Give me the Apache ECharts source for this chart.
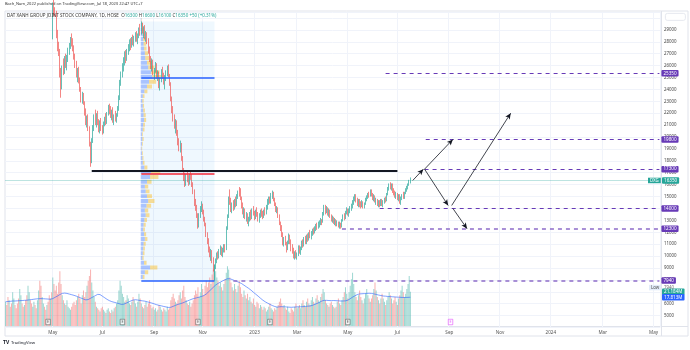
<!DOCTYPE html>
<html><head><meta charset="utf-8">
<script src="https://cdn.jsdelivr.net/npm/echarts/dist/echarts.min.js"></script>
<style>html,body{margin:0;padding:0;background:#fff}#c{width:690px;height:350px}</style>
</head><body><div id="c"></div>
<script>
// ---------- DATA ----------
const startDate = '2022-03-04';
const axisEndDate = '2024-05-08';
const holidays = ['2022-04-11','2022-05-02','2022-05-03','2022-09-01','2022-09-02','2023-01-02','2023-01-20','2023-01-23','2023-01-24','2023-01-25','2023-01-26','2023-05-01','2023-05-02','2023-05-03'];

// daily bars [open, high, low, close]
const ohlc = [
[37500,38300,37100,37900],[37900,38400,37200,37400],[37400,37800,36500,36700],[36700,37300,36200,37100],[37100,37600,36600,36900],[36900,37000,35800,36000],[36000,36600,35600,36400],[36400,37200,36200,37000],[37000,37500,36500,36800],[36800,37100,36000,36300],
[36300,36500,35200,35500],[35500,35900,34800,35000],[35000,35800,34900,35600],[35600,36200,35300,36000],[36000,36400,35400,35700],[35700,35900,34600,34900],[34900,35400,34500,35200],[35200,35500,34300,34500],[34500,34800,33600,33900],[33900,34600,33700,34400],
[34400,34900,34100,34700],[34700,35000,33900,34100],[34100,34300,33000,33300],[33300,33900,33100,33700],[33700,34200,33400,34000],[34000,34100,33200,33400],[33400,33600,32500,32800],[32800,33400,32600,33200],[33200,33700,32900,33500],[33500,33800,32800,33000],
[33000,33200,32200,32400],[32400,32900,32100,32700],[32700,33300,32500,33100],[33100,33400,32400,32600],[32600,32800,31800,32000],[32000,32500,31700,32300],[32300,32600,31600,31800],[31800,32200,31300,31500],[31500,31900,31100,31700],[31700,31800,30900,31100],
[28400,31300,28200,31000],[31000,31600,30200,30600],[30600,30900,30100,30400],[30400,30600,28300,28500],[28500,29000,27200,27500],[27500,28000,26800,27200],[27200,27400,25000,25200],[25200,25800,23300,24000],[24200,26000,24000,25800],[25800,26600,25200,25500],
[25500,26800,25300,26500],[26500,27000,25800,26000],[26000,26900,25600,26700],[26700,27500,26300,27300],[27300,27900,26900,27700],[27700,28400,27400,28100],[28100,28700,27600,27900],[27900,28300,27200,27400],[27400,27700,26500,26800],[26800,27000,25800,26000],
[26000,26400,25000,25300],[25300,25800,24600,25600],[25600,25900,24500,24700],[24700,25000,23800,24000],[24000,24200,22900,23100],[23100,23800,22800,23500],[23500,23700,22700,22900],[22900,23000,21800,22000],[22000,22400,21000,21200],[21200,21800,20800,21600],
[21600,21900,20500,20700],[20700,20900,19200,19400],[19400,19600,17500,17900],[18000,19900,17800,19700],[19700,21000,19500,20800],[20800,21900,20500,21600],[21600,22300,21000,21300],[21300,22000,20800,21800],[21800,22200,21000,21200],[21200,21500,20400,20700],
[20700,21400,20300,21200],[21200,21600,20500,20800],[20800,21000,20200,20500],[20500,21300,20300,21100],[21100,21700,20900,21500],[21500,22000,21000,21200],[21200,22100,21100,22000],[22000,22700,21800,22500],[22500,22800,21900,22100],[22100,22600,21600,21800],
[21800,22300,21400,22200],[22200,22500,21200,21400],[21400,21900,21000,21700],[21700,22200,21300,21500],[21500,22000,21200,21900],[21900,22600,21700,22400],[22400,23500,22200,23300],[23300,24800,23100,24600],[24600,25500,24300,25300],[25300,26200,25000,26000],
[26000,26700,25500,26500],[26500,27200,26000,26900],[26900,27300,26200,26500],[26500,27400,26400,27200],[27200,27800,26900,27600],[27600,28200,27200,27900],[27900,28300,27300,27600],[27600,28400,27500,28200],[28200,28600,27700,28000],[28000,28500,27600,28300],
[28300,28800,28000,28600],[28600,28900,28000,28200],[28200,28700,27800,28500],[28500,29200,28300,29000],[29000,29500,28500,28800],[28800,29700,28600,29400],[29400,29600,28700,28900],[28900,29300,28300,29100],[29100,29400,28200,28400],[28400,28900,28000,28700],
[28700,28800,27800,28000],[28000,28300,27000,27300],[27300,27600,26300,26500],[26500,26800,25700,26000],[26000,26600,25500,26300],[26300,26500,25200,25400],[25400,25800,24800,25600],[25600,26300,25400,26000],[26000,26200,24900,25100],[25100,25600,24700,25400],
[25400,25500,24100,24400],[24400,25000,23900,24800],[24800,25700,24600,25500],[25500,25900,24900,25100],[25100,25400,24400,24600],[24600,25200,24000,24900],[24900,25600,24700,25400],[25400,26000,25100,25800],[25800,26100,25000,25200],[25200,25300,24300,24500],
[24500,24600,23000,23200],[23200,23400,22000,22200],[22200,22600,21300,21500],[21500,21900,20700,21000],[21000,21500,20300,21200],[21200,21400,20100,20300],[20300,20600,19300,19500],[19500,19900,18800,19000],[19000,19700,18700,19400],[19400,19500,18000,18200],
[18200,18400,17100,17300],[17300,17400,16300,16500],[16500,17000,15800,16100],[16100,16900,15900,16700],[16700,17100,16200,16400],[16400,16800,15900,16100],[16100,16900,16000,16800],[16800,17200,16400,16600],[16600,16900,15800,16000],[16000,16200,15200,15400],
[15400,15600,14200,14400],[14400,14800,13800,14100],[14100,14300,13200,13400],[13400,13600,12300,12600],[12600,13600,12400,13400],[13400,14200,13200,14000],[14000,14600,13700,14300],[14300,14400,13500,13700],[13700,13900,12900,13100],[13100,13300,12500,12700],
[12700,12800,11600,11800],[11800,12000,11000,11200],[11200,11500,10300,10500],[10500,10800,9900,10100],[10100,10600,9600,10400],[10400,10500,9400,9600],[9600,9900,8700,8900],[8900,9300,7940,9100],[9100,9800,8900,9600],[9600,10300,9400,10100],
[10100,10400,9700,9900],[9900,10600,9800,10400],[10400,10900,10100,10700],[10700,10800,10000,10200],[10200,10700,9900,10500],[10500,11000,10300,10800],[10800,11000,10300,10600],[10600,12500,10500,12300],[12300,13500,12200,13300],[13300,15000,13200,14900],
[14900,15600,14300,14500],[14500,14900,13700,13900],[13900,14500,13600,14300],[14300,14700,13800,14000],[14000,14800,13900,14600],[14600,15000,14100,14300],[14300,15200,14200,15000],[15000,15500,14800,15300],[15300,15800,15000,15200],[15200,15700,14700,14900],
[14900,15000,14000,14200],[14200,14500,13500,13700],[13700,14100,13200,13900],[13900,14000,13100,13300],[13300,13700,12900,13500],[13500,13600,12700,12900],[12900,13300,12500,13100],[13100,13700,12900,13500],[13500,13900,13000,13200],[13200,14000,13100,13800],
[13800,14200,13400,13600],[13600,13800,13000,13200],[13200,13900,13100,13700],[13700,14100,13300,13500],[13500,13700,12900,13100],[13100,13600,12800,13400],[13400,13900,13200,13800],[13800,14000,13300,13500],[13500,13800,13100,13300],[13300,13900,13200,13700],
[13700,14100,13400,13600],[13600,14300,13500,14100],[14100,14800,13900,14600],[14600,15000,14300,14800],[14800,15000,14400,14500],[14500,15300,14400,15100],[15100,15500,14800,15300],[15300,15400,14600,14700],[14700,14900,14200,14400],[14400,14500,13700,13900],
[13900,14200,13600,14000],[14000,14100,13200,13300],[13300,13500,12600,12700],[12700,12900,12100,12300],[12300,12600,11600,11800],[11800,12000,10900,11100],[11100,11600,10800,11400],[11400,11700,10900,11000],[11000,11200,10300,10600],[10600,11300,10500,11100],
[11100,11900,11000,11700],[11700,11800,11000,11200],[11200,11400,10400,10600],[10600,11000,10200,10400],[10400,10700,9800,10000],[10000,10400,9700,10200],[10200,10500,9800,9900],[9900,10300,9700,10200],[10200,10900,10000,10700],[10700,10900,10200,10400],
[10400,10800,10100,10600],[10600,11300,10500,11100],[11100,11400,10700,10900],[10900,11600,10800,11400],[11400,11700,11000,11200],[11200,11800,11000,11600],[11600,11900,11200,11400],[11400,12000,11300,11800],[11800,12200,11500,11700],[11700,12100,11400,11900],
[11900,12300,11700,12100],[12100,12400,11800,12000],[12000,12500,11900,12300],[12300,12700,12100,12500],[12500,12800,12200,12400],[12400,12900,12300,12700],[12700,13000,12400,12800],[12800,13200,12600,13000],[13000,13100,12600,12900],[12900,13700,12800,13500],
[13500,14300,13400,14100],[14100,14300,13500,13700],[13700,14200,13600,14000],[14000,14100,13400,13600],[13600,14000,13300,13800],[13800,13900,13200,13300],[13300,13500,12900,13100],[13100,13400,12800,13200],[13200,13300,12700,12900],[12900,13200,12600,13000],
[13000,13100,12500,12700],[12700,13000,12500,12800],[12800,12900,12400,12600],[12600,12900,12300,12700],[12700,12800,12300,12500],[12500,13100,12400,13000],[13000,13500,12900,13400],[13400,13600,13000,13200],[13200,13800,13100,13700],[13700,14100,13500,13900],
[13900,14000,13400,13600],[13600,14000,13300,13800],[13800,14200,13600,14000],[14000,14400,13800,14200],[14200,14700,14000,14500],[14500,15000,14300,14800],[14800,15200,14600,15000],[15000,15200,14500,14600],[14600,14900,14200,14400],[14400,14800,14100,14700],
[14700,14800,14100,14300],[14300,14600,14000,14200],[14200,14700,14100,14500],[14500,14600,14000,14300],[14300,14500,14000,14400],[14400,14900,14300,14800],[14800,15100,14600,15000],[15000,15300,14800,15200],[15200,15400,14900,15100],[15100,15600,15000,15500],
[15500,15600,15000,15100],[15100,15300,14700,14900],[14900,15200,14600,15000],[15000,15100,14500,14600],[14600,14900,14300,14700],[14700,14800,14200,14400],[14400,14700,14100,14500],[14500,14700,14100,14300],[14300,14800,14200,14600],[14600,14800,14200,14400],
[14400,14700,14100,14600],[14600,14900,14400,14800],[14800,15000,14500,14700],[14700,15300,14600,15200],[15200,15800,15100,15700],[15700,16100,15500,15900],[15900,16200,15600,15800],[15800,16100,15500,16000],[16000,16100,15300,15400],[15400,15700,15100,15300],
[15300,15500,14900,15000],[15000,15400,14800,15200],[15200,15300,14700,14900],[14900,15200,14600,15100],[15100,15200,14400,14600],[14600,15000,14300,14900],[14900,15200,14700,15100],[15100,15400,14800,14900],[14900,15400,14800,15300],[15300,15700,15200,15600],
[15600,15900,15400,15800],[15800,16100,15600,16000],[16000,16400,15900,16300],[16300,16600,16100,16350]
];

// volume in millions of shares
const volumeM = [
15,13,18,16,12,14,21,17,13,11, 14,17,23,19,14,12,13,16,19,25, 21,16,14,12,15,13,11,16,22,28, 25,18,14,12,10,13,15,19,17,21,
30,26,22,25,20,27,34,26,19,16, 14,13,16,12,11,10,12,14,15,13, 16,18,20,17,14,19,22,18,21,25, 28,31,35,
27,22,18,15,12,11,10,9,11,12, 10,9,8,10,11,9,8,10,9,11, 12,14,16,22,28,25,20,18,15,16, 19,17,14,13,15,18,16,14,12,15, 20,17,14,12,11,13,15,12,
14,16,13,11,12,10,11,9,10,13, 12,10,9,11,10,9,12,10,11,16, 18,20,17,15,14,16,19,21,17,22, 25,18,16,14,13,15,12,14,16,19, 22,20,24,18,21,26,23,19,25,28, 24,27,30,26,32,35,38,
34,30,28,25,27,24,22,26,29,33, 37,35,30,27,24,22,26,23,21,25, 28,24,20,18,22,19,17,20,16,18, 15,14,17,13,12,15,14,11,13,12, 10,12,11,9,10,12,14,11,10,9, 11,10,12,13,15,17,14,12,13,11, 10,12,9,8,11,10,9,12,14,11, 12,13,11,14,16,13,12,15,17,14, 13,16,18,15,14,17,19,16,15,18, 20,23,21,
16,14,13,12,14,15,13,12,11,12, 15,17,14,13,16,18,21,24,20,17, 21,25,29,33,26,21,18,16,19,22, 18,16,14,17,20,23,19,17,15,17, 19,23,27,22,18,16,14,17,20,17, 15,13,16,18,21,19,17,14,16,18, 15,13,17,19,22,25,21,18,20,23, 26,31,21.184
];

// volume moving average (millions)
const volumeMA = [
15.0,15.1,15.2,15.3,15.3,15.4,15.5,15.5,15.5,15.5, 15.6,15.6,15.7,15.8,15.8,15.9,15.9,16.0,16.0,16.1,
16.2,16.3,16.4,16.5,16.6,16.7,16.8,16.9,16.9,17.0, 17.0,16.9,16.9,16.8,16.8,16.7,16.7,16.6,16.6,16.6,
17.0,17.4,17.8,18.2,18.6,19.0,19.5,19.9,20.2,20.5, 20.4,20.3,20.2,20.0,19.8,19.6,19.4,19.2,19.0,18.8,
18.5,18.2,17.9,17.6,17.3,17.0,16.7,16.4,16.2,16.0, 16.4,16.8,17.2,17.6,18.0,18.4,18.8,19.2,19.6,20.0,
19.5,19.0,18.5,18.0,17.5,17.0,16.5,16.1,15.7,15.3, 15.1,14.9,14.7,14.5,14.3,14.1,13.9,13.6,13.4,13.2,
13.5,13.8,14.1,14.5,14.8,15.2,15.5,15.8,16.1,16.4, 16.3,16.2,16.1,15.9,15.8,15.7,15.6,15.5,15.4,15.2,
15.0,14.8,14.6,14.4,14.2,14.0,13.7,13.5,13.2,13.0, 12.8,12.6,12.5,12.3,12.1,12.0,11.8,11.6,11.5,11.3,
11.6,11.9,12.2,12.5,12.8,13.1,13.4,13.6,13.8,14.0, 14.3,14.6,14.9,15.2,15.5,15.8,16.1,16.4,16.7,16.9,
17.1,17.3,17.5,17.7,17.9,18.1,18.3,18.6,18.9,19.1, 19.8,20.5,21.2,21.9,22.6,23.3,24.0,24.7,25.4,26.0,
26.4,26.8,27.2,27.6,28.0,28.4,28.7,29.0,29.3,29.5, 29.3,29.1,28.8,28.5,28.2,27.9,27.6,27.3,27.0,26.8,
26.3,25.8,25.3,24.8,24.3,23.8,23.3,22.8,22.2,21.5, 20.9,20.3,19.7,19.1,18.5,17.9,17.2,16.6,16.0,15.4,
15.0,14.6,14.2,13.8,13.4,13.0,12.7,12.4,12.1,11.8, 11.7,11.8,11.9,12.0,12.0,11.9,11.9,11.8,11.8,11.8,
11.7,11.6,11.6,11.7,11.7,11.8,11.8,11.9,11.9,11.9, 11.9,12.0,12.0,12.1,12.1,12.2,12.3,12.3,12.4,12.5,
12.8,13.1,13.4,13.7,14.0,14.3,14.7,15.1,15.5,15.8, 15.9,15.9,15.9,15.8,15.8,15.7,15.7,15.8,15.8,15.8,
15.7,15.7,15.6,15.6,15.5,15.5,15.5,15.6,15.6,15.6, 16.0,16.4,16.9,17.4,17.9,18.3,18.7,19.1,19.5,19.8,
19.9,20.0,20.0,20.1,20.1,20.2,20.2,20.3,20.3,20.3, 20.2,20.0,19.9,19.7,19.6,19.4,19.2,19.0,18.9,18.7,
18.6,18.5,18.5,18.4,18.3,18.3,18.2,18.1,18.1,18.0, 18.0,17.9,17.9,17.8,17.8,17.8,17.7,17.7,17.7,17.7,
17.7,17.8,17.8,17.813
];

// fixed-range volume profile rows: [price bin low, up volume, down volume]
const profileStep = 400;
const profileBins = [
[29600,3,2],[29200,5,4],[28800,8,6],[28400,10,8],[28000,12,10],[27600,14,12],[27200,16,12],[26800,20,16],[26400,22,18],[26000,30,24],
[25600,36,30],[25200,50,40],[24800,55,45],[24400,40,34],[24000,30,24],[23600,18,14],[23200,10,8],[22800,8,6],[22400,10,6],[22000,12,8],
[21600,14,10],[21200,16,10],[20800,12,8],[20400,10,8],[20000,6,4],[19600,8,6],[19200,6,4],[18800,4,3],[18400,6,4],[18000,8,5],
[17600,10,8],[17200,18,14],[16800,50,44],[16400,45,40],[16000,30,22],[15600,20,16],[15200,24,18],[14800,30,24],[14400,36,30],[14000,28,22],
[13600,20,16],[13200,24,18],[12800,18,12],[12400,14,10],[12000,12,8],[11600,16,10],[11200,20,12],[10800,14,10],[10400,12,8],[10000,10,8],
[9600,8,6],[9200,16,12],[8800,45,35],[8400,20,16],[8000,10,8]
];
const profileFrom = 115, profileTo = 177;
const profileUpperLine = 25000, profilePocLine = 16950;

// horizontal levels drawn by the author: [price, first bar index]
const dashedLevels = [[25350,322],[19800,356],[17300,355],[14000,317],[12300,285],[7940,193]];
const blackLevel = [17200, 73, 332];
// arrows: [fromIndex, fromPrice, toIndex, toPrice]
const arrows = [[345,16350,354,17300],[355,17300,379,19800],[355,17300,375,14250],[378,14250,428,22000],[379,14000,391,12300]];
const earningsIdx = [36,99,163,224,290];
const futureEarningsIdx = [377];
const priceTicks = {min:4000, max:30500, step:1000};

// ---------- BUILD ----------
function buildDates(){
  const out=[], hol=new Set(holidays);
  let d=new Date(startDate+'T00:00:00Z'); const end=new Date(axisEndDate+'T00:00:00Z');
  while(d<=end){ const wd=d.getUTCDay(), s=d.toISOString().slice(0,10);
    if(wd!==0&&wd!==6&&!hol.has(s)) out.push(s); d=new Date(d.getTime()+86400000); }
  return out;
}
const dates = buildDates();
const N = dates.length;
const UP='#26a69a', DOWN='#ef5350', PURPLE='#673ab7';
const CLEAR='rgba(0,0,0,0)';
const MONTHS=['Jan','Feb','Mar','Apr','May','Jun','Jul','Aug','Sep','Oct','Nov','Dec'];
const FONT='"Noto Sans", Roboto, sans-serif';
function isLabelIdx(i){ if(i<=0) return false; const m=+dates[i].slice(5,7), pm=+dates[i-1].slice(5,7); return m!==pm && (m%2===1); }
function labelFor(v){ const m=+v.slice(5,7); return m===1? v.slice(0,4) : MONTHS[m-1]; }

const last = ohlc[ohlc.length-1], prev = ohlc[ohlc.length-2];
const chg = last[3]-prev[3], chgPct = (chg/prev[3]*100).toFixed(2);
const minLow = Math.min(...ohlc.map(r=>r[2]));
let pfTop=-Infinity, pfBot=Infinity;
for(let i=profileFrom;i<=profileTo;i++){pfTop=Math.max(pfTop,ohlc[i][1]);pfBot=Math.min(pfBot,ohlc[i][2]);}
const pfMax = Math.max(...profileBins.map(b=>b[1]+b[2]));

const tagLabel=(text,bg,fg)=>({show:true,position:'end',distance:2,formatter:text,backgroundColor:bg,color:fg||'#fff',fontSize:4.6,fontFamily:FONT,padding:[1,2,0.5,2],borderRadius:1});

const mlData = [];
// price line of last close
mlData.push({yAxis:last[3], lineStyle:{color:'rgba(38,166,154,0.3)',width:1,type:'solid'}, label:tagLabel(String(last[3]),UP)});
mlData.push({yAxis:last[3], lineStyle:{color:CLEAR,width:0.1}, label:{show:true,position:'end',distance:0,formatter:'DXG',backgroundColor:UP,color:'#fff',fontSize:4.4,fontFamily:FONT,padding:[1,2,0.5,2],offset:[-12,0]}});
mlData.push({yAxis:minLow, lineStyle:{color:CLEAR,width:0.1}, label:{show:true,position:'end',distance:0,formatter:'Low',backgroundColor:'#e3ecf9',color:'#555',fontSize:4.4,fontFamily:FONT,padding:[1,2,0.5,2],offset:[-11,7]}});
mlData.push({yAxis:minLow, lineStyle:{color:CLEAR,width:0.1}, label:{show:true,position:'end',distance:4,formatter:String(minLow),color:'#777',fontSize:4.4,fontFamily:FONT,offset:[0,7]}});
dashedLevels.forEach(([v,from])=>{
  const light = (v===12300||v===7940);
  mlData.push([{coord:[dates[from],v], lineStyle:{color: light?'#9575cd':PURPLE, width: light?1.6:1, type:[4,4]}, label:tagLabel(String(v),PURPLE)},{coord:[dates[N-1],v]}]);
});
mlData.push([{coord:[dates[blackLevel[1]],blackLevel[0]], lineStyle:{color:'#131722',width:2,type:'solid'}, label:{show:false}},{coord:[dates[blackLevel[2]],blackLevel[0]]}]);
mlData.push([{coord:[dates[profileFrom],profileUpperLine], lineStyle:{color:'#2962ff',width:1.5,type:'solid'}, label:{show:false}},{coord:[dates[profileTo],profileUpperLine]}]);
mlData.push([{coord:[dates[profileFrom],profilePocLine], lineStyle:{color:'#f23645',width:2,type:'solid',opacity:0.8}, label:{show:false}},{coord:[dates[profileTo],profilePocLine]}]);
mlData.push([{coord:[dates[profileFrom],pfBot], lineStyle:{color:'#2962ff',width:1.5,type:'solid'}, label:{show:false}},{coord:[dates[profileTo],pfBot]}]);
arrows.forEach(a=>{
  mlData.push([{coord:[dates[a[0]],a[1]], symbol:'none', lineStyle:{color:'#131722',width:0.8,type:'solid'}, label:{show:false}},{coord:[dates[a[2]],a[3]], symbol:'arrow', symbolSize:[4,6]}]);
});

const option = {
  animation:false,
  backgroundColor:'#fff',
  grid:[
    {left:5,right:30,top:12,bottom:22.5},
    {left:5,right:30,top:226,bottom:24}
  ],
  xAxis:[
    {type:'category',gridIndex:0,data:dates,boundaryGap:true,axisLine:{show:false},axisTick:{show:false},
     axisLabel:{interval:(i)=>isLabelIdx(i),formatter:(v)=>labelFor(v),fontSize:4.6,color:'#555',margin:3,fontFamily:FONT},
     splitLine:{show:true,interval:(i)=>isLabelIdx(i),lineStyle:{color:'#f0f3fa',width:1}}},
    {type:'category',gridIndex:1,data:dates,boundaryGap:true,show:false}
  ],
  yAxis:[
    {type:'value',gridIndex:0,position:'right',min:priceTicks.min,max:priceTicks.max,interval:priceTicks.step,
     axisLine:{show:false},axisTick:{show:false},
     axisLabel:{fontSize:4.4,color:'#444',margin:4,fontFamily:FONT,formatter:(v)=>(v<=priceTicks.min||v>=30000)?'':String(v)},
     splitLine:{lineStyle:{color:'#f0f3fa',width:1}}},
    {type:'value',gridIndex:1,min:0,max:62,show:false,splitLine:{show:false}}
  ],
  graphic:[
    {type:'rect',z:-1,shape:{x:5,y:11,width:683,height:325},style:{fill:'none',stroke:'#e0e3eb',lineWidth:1}},
    {type:'line',z:-1,shape:{x1:661.5,y1:11,x2:661.5,y2:336},style:{stroke:'#e0e3eb',lineWidth:1}},
    {type:'line',z:-1,shape:{x1:5,y1:326.5,x2:688,y2:326.5},style:{stroke:'#e0e3eb',lineWidth:1}},
    {type:'text',left:5,top:2,style:{text:'Bach_Nam_2022 published on TradingView.com, Jul 18, 2023 22:47 UTC+7',fontSize:4,fontFamily:FONT,fill:'#333'}},
    {type:'text',left:7,top:13,z:20,style:{text:`DAT XANH GROUP JOINT STOCK COMPANY, 1D, HOSE  O{t|${last[0]}} H{t|${last[1]}} L{t|${last[2]}} C{t|${last[3]}} {t|${chg>=0?'+':''}${chg} (${chg>=0?'+':''}${chgPct}%)}`,
      fontSize:4.5,fontFamily:FONT,fill:'#333',rich:{t:{fill:UP,fontSize:4.5,fontFamily:FONT}}}},
    {type:'rect',left:665,top:13,shape:{width:20,height:7,r:2},style:{fill:'#fff',stroke:'#e0e3eb',lineWidth:0.8}},
    {type:'text',left:3,top:340,style:{text:'TV',fontSize:5,fontWeight:'bold',fontFamily:FONT,fill:'#131722'}},
    {type:'text',left:11,top:341,style:{text:'TradingView',fontSize:4.2,fontFamily:FONT,fill:'#131722'}}
  ],
  series:[
    {type:'custom',name:'profile',xAxisIndex:0,yAxisIndex:0,z:3,silent:true,clip:true,
     data:profileBins.map(b=>[profileFrom,b[0],b[1],b[2]]),
     encode:{x:0,y:1},
     renderItem:(params,api)=>{
       const pLow=api.value(1), up=api.value(2), dn=api.value(3);
       const a=api.coord([profileFrom,pLow]), b=api.coord([profileTo,pLow]), t=api.coord([profileFrom,pLow+profileStep]);
       const bw=api.size([1,0])[0];
       const x0=a[0]-bw/2, boxW=b[0]-a[0]+bw;
       const wu=up/pfMax*boxW*0.28, wd=dn/pfMax*boxW*0.28, h=Math.max(0.5,a[1]-t[1]-0.8);
       return {type:'group',children:[
         {type:'rect',shape:{x:x0,y:t[1],width:wu,height:h},style:{fill:'rgba(41,98,255,0.35)'}},
         {type:'rect',shape:{x:x0+wu,y:t[1],width:wd,height:h},style:{fill:'rgba(251,192,45,0.5)'}}
       ]};
     }},
    {type:'bar',name:'Volume',xAxisIndex:1,yAxisIndex:1,z:2,barWidth:1,silent:true,
     data:volumeM.map((v,i)=>({value:v,itemStyle:{color: ohlc[i][3]>=ohlc[i][0]?'rgba(38,166,154,0.45)':'rgba(239,83,80,0.45)'}})),
     markLine:{silent:true,symbol:['none','none'],animation:false,
       data:[{yAxis:volumeM[volumeM.length-1],lineStyle:{color:CLEAR,width:0.1},label:tagLabel(volumeM[volumeM.length-1].toFixed(3)+'M',UP)}]}},
    {type:'line',name:'Vol MA',xAxisIndex:1,yAxisIndex:1,z:3,data:volumeMA,symbol:'none',silent:true,
     lineStyle:{color:'rgba(41,98,255,0.75)',width:0.8},
     markLine:{silent:true,symbol:['none','none'],animation:false,
       data:[{yAxis:volumeMA[volumeMA.length-1],lineStyle:{color:CLEAR,width:0.1},label:tagLabel(volumeMA[volumeMA.length-1].toFixed(3)+'M','#2962ff')}]}},
    {type:'scatter',xAxisIndex:1,yAxisIndex:1,z:6,silent:true,data:earningsIdx.map(i=>[dates[i],0]),symbol:'rect',symbolSize:[4.5,5.5],symbolOffset:[0,-4],
     itemStyle:{color:'#fff',borderColor:'#555',borderWidth:0.7},label:{show:true,position:'inside',formatter:'E',fontSize:3.6,color:'#333',fontFamily:FONT}},
    {type:'scatter',xAxisIndex:1,yAxisIndex:1,z:6,silent:true,data:futureEarningsIdx.map(i=>[dates[i],0]),symbol:'rect',symbolSize:[4.5,5.5],symbolOffset:[0,-4],
     itemStyle:{color:'#fff',borderColor:'#e040fb',borderWidth:0.7},label:{show:true,position:'inside',formatter:'E',fontSize:3.6,color:'#e040fb',fontFamily:FONT}},
    {type:'candlestick',name:'DXG',xAxisIndex:0,yAxisIndex:0,z:4,clip:true,barWidth:1,silent:true,
     data:ohlc.map(r=>[r[0],r[3],r[2],r[1]]),
     itemStyle:{color:UP,color0:DOWN,borderColor:UP,borderColor0:DOWN,borderWidth:0.7},
     markArea:{silent:true,data:[[{coord:[dates[profileFrom],pfTop],itemStyle:{color:'rgba(33,150,243,0.07)'}},{coord:[dates[profileTo],pfBot]}]]},
     markLine:{silent:true,symbol:['none','none'],animation:false,label:{show:false},emphasis:{disabled:true},data:mlData}}
  ]
};
const chart = echarts.init(document.getElementById('c'),null,{renderer:'canvas'});
chart.setOption(option);
</script></body></html>
